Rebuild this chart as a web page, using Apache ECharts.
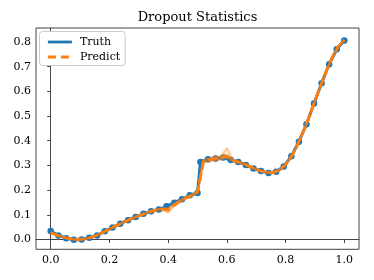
<!DOCTYPE html>
<html>
<head>
<meta charset="utf-8">
<script src="https://cdn.jsdelivr.net/npm/echarts@6/dist/echarts.min.js"></script>
<style>html,body{margin:0;padding:0;background:#fff}#c{width:374px;height:280px}</style>
</head>
<body>
<div id="c"></div>
<script>
// Truth sample points
const truthX = [0, 0.0263, 0.0526, 0.0789, 0.1053, 0.1316, 0.1579, 0.1842, 0.2105, 0.2368,
  0.2632, 0.2895, 0.3158, 0.3421, 0.3684, 0.3947, 0.4211, 0.4474, 0.4737, 0.5,
  0.51, 0.5358, 0.5616, 0.5874, 0.6132, 0.6389, 0.6647, 0.6905, 0.7163, 0.7421,
  0.7679, 0.7937, 0.8195, 0.8453, 0.8711, 0.8968, 0.9226, 0.9484, 0.9742, 1.0];
const truthY = [0.034, 0.016, 0.005, -0.001, 0.000, 0.007, 0.016, 0.033, 0.048, 0.064,
  0.078, 0.091, 0.104, 0.114, 0.121, 0.134, 0.149, 0.163, 0.179, 0.188,
  0.314, 0.325, 0.328, 0.332, 0.322, 0.314, 0.302, 0.288, 0.277, 0.269,
  0.274, 0.296, 0.337, 0.396, 0.467, 0.551, 0.633, 0.710, 0.771, 0.806];

// Prediction grid
const predX = [0, 0.02, 0.04, 0.06, 0.08, 0.10, 0.12, 0.14, 0.16, 0.18,
  0.20, 0.22, 0.24, 0.26, 0.28, 0.30, 0.32, 0.34, 0.36, 0.38,
  0.40, 0.42, 0.44, 0.46, 0.48, 0.50, 0.52, 0.54, 0.56, 0.58,
  0.60, 0.62, 0.64, 0.66, 0.68, 0.70, 0.72, 0.74, 0.76, 0.78,
  0.80, 0.82, 0.84, 0.86, 0.88, 0.90, 0.92, 0.94, 0.96, 0.98, 1.00];
const predictY = [0.027, 0.018, 0.010, 0.004, 0.001, 0.000, 0.003, 0.009, 0.018, 0.030,
  0.042, 0.054, 0.065, 0.076, 0.086, 0.096, 0.105, 0.113, 0.120, 0.123,
  0.120, 0.140, 0.155, 0.168, 0.178, 0.192, 0.315, 0.322, 0.327, 0.330,
  0.338, 0.320, 0.313, 0.305, 0.295, 0.284, 0.276, 0.271, 0.272, 0.282,
  0.303, 0.337, 0.383, 0.436, 0.496, 0.561, 0.625, 0.687, 0.740, 0.783, 0.808];

// Dropout samples
const sampleA = [0.029, 0.019, 0.011, 0.005, 0.002, 0.001, 0.004, 0.010, 0.019, 0.031,
  0.043, 0.055, 0.066, 0.077, 0.087, 0.097, 0.106, 0.115, 0.122, 0.126,
  0.128, 0.143, 0.158, 0.171, 0.181, 0.195, 0.320, 0.328, 0.333, 0.336,
  0.345, 0.322, 0.314, 0.306, 0.296, 0.285, 0.277, 0.272, 0.273, 0.283,
  0.304, 0.338, 0.384, 0.437, 0.497, 0.562, 0.626, 0.688, 0.741, 0.784, 0.809];
const sampleB = [0.026, 0.017, 0.009, 0.003, 0.000, -0.001, 0.002, 0.008, 0.017, 0.029,
  0.041, 0.053, 0.064, 0.075, 0.085, 0.095, 0.104, 0.112, 0.119, 0.120,
  0.110, 0.136, 0.151, 0.164, 0.175, 0.189, 0.310, 0.316, 0.321, 0.325,
  0.332, 0.318, 0.312, 0.304, 0.294, 0.283, 0.275, 0.270, 0.271, 0.281,
  0.302, 0.336, 0.382, 0.435, 0.495, 0.560, 0.624, 0.686, 0.739, 0.782, 0.807];
const sampleC = [0.028, 0.018, 0.010, 0.004, 0.001, 0.000, 0.003, 0.009, 0.018, 0.030,
  0.042, 0.054, 0.065, 0.076, 0.086, 0.096, 0.105, 0.113, 0.121, 0.124,
  0.116, 0.141, 0.156, 0.169, 0.179, 0.193, 0.318, 0.325, 0.331, 0.334,
  0.370, 0.321, 0.313, 0.305, 0.295, 0.284, 0.276, 0.271, 0.272, 0.282,
  0.303, 0.337, 0.383, 0.436, 0.496, 0.561, 0.625, 0.687, 0.740, 0.783, 0.808];

const xTicks = [0.0, 0.2, 0.4, 0.6, 0.8, 1.0];
const yTicks = [0.0, 0.1, 0.2, 0.3, 0.4, 0.5, 0.6, 0.7, 0.8];

const zip = (xs, ys) => xs.map((x, i) => [x, ys[i]]);
const FONT = 'DejaVu Serif';
const BLUE = '#1f77b4', ORANGE = '#ff7f0e';

const chart = echarts.init(document.getElementById('c'), null, {renderer: 'canvas'});
const sampleSeries = [sampleA, sampleB, sampleC].map((s, k) => ({
  name: 'sample' + k, type: 'line', data: zip(predX, s), symbol: 'none', silent: true,
  z: 4, lineStyle: {color: ORANGE, width: 2.4, opacity: 0.4}, itemStyle: {color: ORANGE}
}));

chart.setOption({
  animation: false,
  backgroundColor: '#fff',
  title: {
    text: 'Dropout Statistics', left: 197.5, textAlign: 'center', top: 11, padding: 0,
    textStyle: {fontFamily: FONT, fontSize: 13, fontWeight: 'normal', color: '#000'}
  },
  grid: {left: 36, top: 28, width: 323, height: 221.3, show: true, borderColor: '#444', borderWidth: 1, containLabel: false},
  legend: {
    data: [
      {name: 'Truth', itemStyle: {opacity: 0}, lineStyle: {color: BLUE, width: 2.8, type: 'solid'}},
      {name: 'Predict', itemStyle: {opacity: 0}, lineStyle: {color: ORANGE, width: 2.8, type: [8, 5]}}
    ],
    orient: 'vertical', left: 39.5, top: 31.5,
    padding: [5, 5, 3, 7], itemWidth: 24, itemHeight: 13, itemGap: 4,
    backgroundColor: '#fff', borderColor: '#ccc', borderWidth: 1, borderRadius: 3,
    itemStyle: {opacity: 0},
    textStyle: {fontFamily: FONT, fontSize: 11, color: '#000', padding: [0, 0, 0, 3]}
  },
  xAxis: {
    type: 'value', min: -0.05, max: 1.05,
    axisLine: {show: true, lineStyle: {color: '#444', width: 1}},
    axisTick: {show: true, length: 3.5, lineStyle: {color: '#444'}, customValues: xTicks},
    axisLabel: {customValues: xTicks, margin: 5, fontFamily: FONT, fontSize: 11, color: '#000',
      formatter: v => v.toFixed(1)},
    splitLine: {show: false}
  },
  yAxis: {
    type: 'value', min: -0.04, max: 0.857,
    axisLine: {show: true, lineStyle: {color: '#444', width: 1}},
    axisTick: {show: true, length: 3.5, lineStyle: {color: '#444'}, customValues: yTicks},
    axisLabel: {customValues: yTicks, margin: 5, fontFamily: FONT, fontSize: 11, color: '#000',
      formatter: v => v.toFixed(1)},
    splitLine: {show: false}
  },
  series: [
    {name: 'Truth', type: 'line', data: zip(truthX, truthY), symbol: 'none', z: 2,
      lineStyle: {color: BLUE, width: 3}, itemStyle: {color: BLUE}},
    {name: 'dots', type: 'scatter', data: zip(truthX, truthY), symbolSize: 6.5, z: 3,
      itemStyle: {color: BLUE, opacity: 1}},
    ...sampleSeries,
    {name: 'Predict', type: 'line', data: zip(predX, predictY), symbol: 'none', z: 5,
      lineStyle: {color: ORANGE, width: 2.8, type: [9, 4]}, itemStyle: {color: ORANGE}}
  ]
});
</script>
</body>
</html>
